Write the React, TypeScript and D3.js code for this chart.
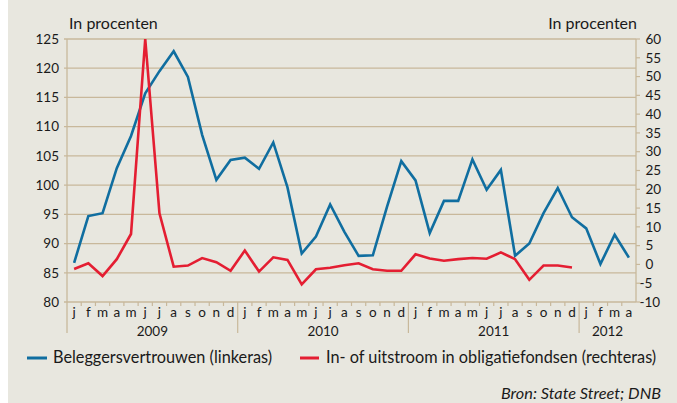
import React from "react";
import * as d3 from "d3";

const monthLabels = ["j","f","m","a","m","j","j","a","s","o","n","d","j","f","m","a","m","j","j","a","s","o","n","d","j","f","m","a","m","j","j","a","s","o","n","d","j","f","m","a"];
const years = [
  { label: "2009", start: 0, end: 12 },
  { label: "2010", start: 12, end: 24 },
  { label: "2011", start: 24, end: 36 },
  { label: "2012", start: 36, end: 40 },
];
const confidence = [86.7, 94.7, 95.2, 102.9, 108.4, 115.7, 119.5, 122.9, 118.5, 108.6, 100.9, 104.3,
  104.7, 102.8, 107.3, 99.6, 88.3, 91.2, 96.7, 92.0, 87.9, 88.0, 96.3, 104.1,
  100.8, 91.8, 97.3, 97.3, 104.4, 99.2, 102.6, 87.9, 90.0, 95.2, 99.5, 94.5,
  92.6, 86.5, 91.5, 87.6];
const flows = [-1.2, 0.3, -3.1, 1.4, 8.1, 60, 13.6, -0.6, -0.3, 1.7, 0.6, -1.7,
  3.7, -1.9, 1.9, 1.2, -5.3, -1.3, -0.9, -0.2, 0.3, -1.3, -1.7, -1.7,
  2.7, 1.6, 1.0, 1.4, 1.7, 1.5, 3.2, 1.4, -4.1, -0.3, -0.3, -0.8];
const leftTicks = [80, 85, 90, 95, 100, 105, 110, 115, 120, 125];
const rightTicks = [-10, -5, 0, 5, 10, 15, 20, 25, 30, 35, 40, 45, 50, 55, 60];

const BG = "#e8e7df";
const GRID = "#c8b89b";
const BLUE = "#106ea0";
const RED = "#e41e32";
const TEXT = "#1a1a1a";
const FONT = "Lato, 'Open Sans', sans-serif";

export default function App() {
  const W = 677, H = 403;
  const left = 67, right = 636, top = 39, bottom = 302;
  const x = d3.scaleBand<number>().domain(d3.range(monthLabels.length)).range([left, right]);
  const cx = (i: number) => (x(i) as number) + x.bandwidth() / 2;
  const yL = d3.scaleLinear().domain([80, 125]).range([bottom, top]);
  const yR = d3.scaleLinear().domain([-10, 60]).range([bottom, top]);
  const blueLine = d3.line<number>().x((_, i) => cx(i)).y((d) => yL(d));
  const redLine = d3.line<number>().x((_, i) => cx(i)).y((d) => yR(d));
  const boundary = (i: number) => left + i * x.step();

  return (
    <div style={{ position: "absolute", left: 0, top: 0 }}>
      <svg width={W} height={H} style={{ display: "block" }} fontFamily={FONT}>
        <rect x={0} y={0} width={W} height={H} fill="#ffffff" />
        <rect x={8} y={0} width={W - 8} height={H} fill={BG} />
        {leftTicks.map((t) => (
          <g key={t}>
            <line x1={left - 3} x2={right} y1={yL(t)} y2={yL(t)} stroke={GRID} strokeWidth={1.3} />
            <text x={59} y={yL(t)} dy="0.35em" textAnchor="end" fontSize={13.5} fill={TEXT}>{t}</text>
          </g>
        ))}
        <line x1={left} x2={left} y1={top} y2={333} stroke={GRID} strokeWidth={1.3} />
        <line x1={right} x2={right} y1={top} y2={bottom} stroke={GRID} strokeWidth={1.3} />
        {rightTicks.map((t) => (
          <g key={t}>
            <line x1={right} x2={right + 4} y1={yR(t)} y2={yR(t)} stroke={GRID} strokeWidth={1.2} />
            <text x={t < 0 ? 639.5 : 645.5} y={yR(t)} dy="0.35em" textAnchor="start" fontSize={13.5} fill={TEXT}>{t < 0 ? "-" + Math.abs(t) : t}</text>
          </g>
        ))}
        {d3.range(1, monthLabels.length).map((i) => (
          <line key={i} x1={boundary(i)} x2={boundary(i)} y1={bottom} y2={years.some((yy) => yy.start === i) ? 333 : 306} stroke={GRID} strokeWidth={1.2} />
        ))}
        {monthLabels.map((m, i) => (
          <text key={i} x={cx(i)} y={317} textAnchor="middle" fontSize={13.5} fill={TEXT}>{m}</text>
        ))}
        {years.map((yy) => (
          <text key={yy.label} x={(boundary(yy.start) + boundary(yy.end)) / 2} y={336} textAnchor="middle" fontSize={13.5} fill={TEXT}>{yy.label}</text>
        ))}
        <text x={69} y={29} fontSize={16} fill={TEXT}>In procenten</text>
        <text x={637} y={29} fontSize={16} textAnchor="end" fill={TEXT}>In procenten</text>
        <path d={blueLine(confidence) as string} fill="none" stroke={BLUE} strokeWidth={2.6} strokeLinejoin="miter" strokeMiterlimit={6} />
        <path d={redLine(flows) as string} fill="none" stroke={RED} strokeWidth={2.6} strokeLinejoin="miter" strokeMiterlimit={2} />
        <line x1={27} x2={47} y1={358} y2={358} stroke={BLUE} strokeWidth={3} />
        <text x={53} y={363} fontSize={16.3} fill={TEXT}>Beleggersvertrouwen (linkeras)</text>
        <line x1={300} x2={319} y1={358} y2={358} stroke={RED} strokeWidth={3} />
        <text x={326} y={363} fontSize={16.3} fill={TEXT}>In- of uitstroom in obligatiefondsen (rechteras)</text>
        <text x={661} y={399} fontSize={16.3} fontStyle="italic" textAnchor="end" fill={TEXT}>Bron: State Street; DNB</text>
      </svg>
    </div>
  );
}
